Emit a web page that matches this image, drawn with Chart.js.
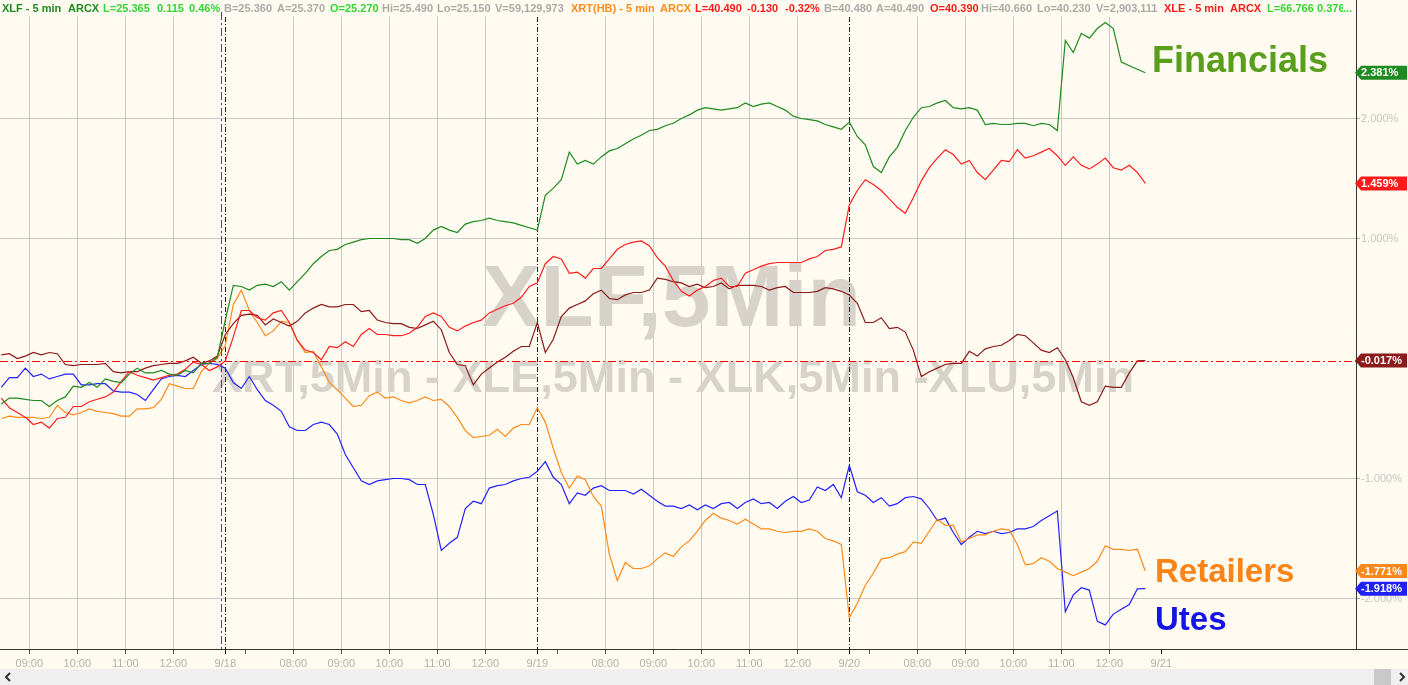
<!DOCTYPE html>
<html><head><meta charset="utf-8">
<script src="https://cdn.jsdelivr.net/npm/chart.js@4.4.0/dist/chart.umd.min.js"></script>
<style>html,body{margin:0;padding:0;background:#fffbf0;overflow:hidden}canvas{display:block}</style>
</head><body>
<canvas id="c" width="1408" height="685"></canvas>
<script>
// ---- data: % change, one value per 10-minute bar (bar 28 = 9/18 open) ----
const xlf = [
-0.38,-0.33,-0.33,-0.34,-0.35,-0.35,-0.40,-0.35,-0.32,-0.23,
-0.24,-0.20,-0.24,-0.17,-0.19,-0.20,-0.13,-0.08,-0.12,-0.12,
-0.10,-0.13,-0.14,-0.10,-0.12,-0.04,-0.04,0.01,0.32,0.61,
0.60,0.57,0.61,0.62,0.60,0.64,0.57,0.64,0.71,0.79,
0.85,0.90,0.91,0.95,0.97,0.99,1.00,1.00,1.00,1.00,
0.99,0.99,0.96,1.00,1.07,1.10,1.07,1.05,1.12,1.14,
1.15,1.17,1.15,1.14,1.13,1.11,1.09,1.07,1.36,1.42,
1.49,1.72,1.62,1.65,1.62,1.68,1.73,1.75,1.79,1.83,
1.86,1.90,1.91,1.94,1.96,2.00,2.03,2.07,2.09,2.08,
2.07,2.08,2.09,2.13,2.10,2.12,2.13,2.10,2.07,2.02,
2.00,1.99,1.98,1.95,1.93,1.91,1.97,1.85,1.78,1.60,
1.55,1.68,1.76,1.90,2.01,2.09,2.10,2.13,2.15,2.09,
2.08,2.09,2.07,1.95,1.96,1.95,1.95,1.96,1.96,1.94,
1.96,1.95,1.90,2.65,2.55,2.71,2.67,2.75,2.80,2.75,
2.47,2.44,2.41,2.381];
const xle = [
-0.33,-0.41,-0.45,-0.49,-0.55,-0.53,-0.58,-0.50,-0.49,-0.40,
-0.40,-0.36,-0.34,-0.32,-0.28,-0.19,-0.11,-0.14,-0.16,-0.18,
-0.16,-0.14,-0.13,-0.09,-0.03,-0.05,-0.10,-0.07,-0.02,0.18,
0.40,0.40,0.34,0.32,0.38,0.40,0.30,0.15,0.07,0.05,
-0.01,0.10,0.09,0.14,0.10,0.20,0.25,0.20,0.20,0.19,
0.19,0.21,0.26,0.35,0.38,0.35,0.26,0.23,0.27,0.30,
0.32,0.38,0.41,0.44,0.46,0.51,0.60,0.63,0.79,0.85,
0.83,0.71,0.72,0.67,0.75,0.75,0.83,0.91,0.95,0.97,
0.98,0.94,0.84,0.77,0.65,0.56,0.52,0.57,0.60,0.65,
0.67,0.60,0.60,0.71,0.74,0.77,0.79,0.80,0.80,0.80,
0.80,0.83,0.85,0.90,0.91,0.93,1.28,1.40,1.49,1.45,
1.40,1.33,1.26,1.21,1.34,1.48,1.59,1.67,1.74,1.70,
1.62,1.65,1.55,1.49,1.57,1.65,1.64,1.74,1.67,1.69,
1.72,1.75,1.69,1.61,1.68,1.61,1.58,1.62,1.67,1.59,
1.57,1.61,1.55,1.459];
const xlk = [
0.03,0.04,0.00,0.02,0.05,0.03,0.05,0.04,-0.05,-0.06,
-0.05,-0.05,-0.05,-0.04,-0.11,-0.12,-0.11,-0.11,-0.08,-0.06,
-0.05,-0.04,-0.04,-0.02,0.01,-0.04,-0.02,0.02,0.20,0.29,
0.36,0.37,0.36,0.28,0.33,0.30,0.27,0.31,0.38,0.42,
0.45,0.43,0.43,0.45,0.45,0.39,0.40,0.32,0.30,0.29,
0.29,0.26,0.25,0.28,0.31,0.24,0.05,-0.05,-0.06,-0.22,
-0.13,-0.08,-0.03,0.01,0.06,0.10,0.10,0.30,0.05,0.16,
0.35,0.42,0.45,0.48,0.54,0.57,0.50,0.49,0.53,0.55,
0.55,0.57,0.67,0.66,0.64,0.63,0.60,0.62,0.59,0.60,
0.63,0.58,0.61,0.61,0.61,0.60,0.57,0.59,0.60,0.55,
0.55,0.55,0.56,0.59,0.58,0.56,0.53,0.46,0.30,0.30,
0.34,0.25,0.26,0.22,0.07,-0.15,-0.11,-0.08,-0.05,-0.04,
-0.04,0.06,0.02,0.08,0.10,0.11,0.15,0.20,0.19,0.13,
0.07,0.05,0.09,-0.01,-0.16,-0.36,-0.39,-0.36,-0.23,-0.24,
-0.24,-0.12,-0.02,-0.017];
const xrt = [
-0.50,-0.48,-0.49,-0.49,-0.49,-0.50,-0.49,-0.39,-0.45,-0.47,
-0.45,-0.42,-0.44,-0.45,-0.46,-0.48,-0.48,-0.42,-0.42,-0.41,
-0.34,-0.21,-0.23,-0.25,-0.25,-0.11,-0.04,0.00,0.11,0.45,
0.57,0.40,0.30,0.19,0.23,0.31,0.30,0.15,0.05,0.06,
-0.07,-0.20,-0.26,-0.33,-0.40,-0.39,-0.31,-0.28,-0.33,-0.32,
-0.35,-0.37,-0.35,-0.32,-0.35,-0.34,-0.40,-0.49,-0.60,-0.66,
-0.65,-0.64,-0.59,-0.65,-0.58,-0.55,-0.55,-0.41,-0.53,-0.75,
-0.95,-1.08,-0.98,-1.01,-1.15,-1.23,-1.63,-1.85,-1.70,-1.75,
-1.75,-1.73,-1.67,-1.62,-1.65,-1.57,-1.52,-1.44,-1.35,-1.29,
-1.33,-1.35,-1.38,-1.34,-1.38,-1.42,-1.42,-1.44,-1.45,-1.44,
-1.44,-1.42,-1.44,-1.50,-1.52,-1.55,-2.16,-2.04,-1.89,-1.79,
-1.67,-1.66,-1.63,-1.61,-1.53,-1.54,-1.44,-1.34,-1.39,-1.39,
-1.53,-1.50,-1.47,-1.47,-1.44,-1.42,-1.43,-1.55,-1.72,-1.71,
-1.66,-1.69,-1.75,-1.78,-1.81,-1.78,-1.75,-1.69,-1.56,-1.59,
-1.59,-1.60,-1.59,-1.771];
const xlu = [
-0.24,-0.16,-0.16,-0.08,-0.15,-0.13,-0.17,-0.15,-0.13,-0.13,
-0.22,-0.22,-0.21,-0.21,-0.27,-0.28,-0.28,-0.30,-0.35,-0.26,
-0.17,-0.15,-0.14,-0.15,-0.10,-0.05,-0.04,-0.05,-0.08,-0.20,
-0.25,-0.15,-0.26,-0.35,-0.39,-0.44,-0.57,-0.60,-0.60,-0.55,
-0.53,-0.55,-0.63,-0.80,-0.91,-1.02,-1.05,-1.02,-1.01,-1.00,
-1.00,-1.01,-1.05,-1.05,-1.30,-1.60,-1.54,-1.49,-1.25,-1.19,
-1.21,-1.08,-1.06,-1.05,-1.02,-1.00,-0.99,-0.94,-0.86,-0.99,
-1.05,-1.21,-1.12,-1.14,-1.08,-1.06,-1.10,-1.10,-1.10,-1.13,
-1.09,-1.14,-1.19,-1.23,-1.23,-1.25,-1.22,-1.26,-1.22,-1.25,
-1.21,-1.20,-1.25,-1.20,-1.17,-1.21,-1.20,-1.25,-1.19,-1.15,
-1.20,-1.18,-1.07,-1.10,-1.05,-1.16,-0.89,-1.11,-1.14,-1.20,
-1.16,-1.23,-1.21,-1.16,-1.15,-1.17,-1.25,-1.35,-1.33,-1.45,
-1.55,-1.49,-1.44,-1.46,-1.44,-1.46,-1.45,-1.42,-1.42,-1.40,
-1.35,-1.31,-1.27,-2.11,-1.97,-1.91,-1.93,-2.19,-2.22,-2.13,
-2.09,-2.05,-1.92,-1.918];

// trading-hours axis: each session 6.5h, 9/18 open = 0
const openBar = 28;
const times = xlf.map((_, i) => (i - openBar) / 6);
const dayStarts = [0, 6.5, 13, 19.5];
const dayLabels = ['9/18', '9/19', '9/20', '9/21'];
const sessionLines = [0, 6.5, 13];
const hourOffsets = [25/60, 85/60, 145/60, 205/60, 265/60, 325/60];
const hourLabels = ['', '08:00', '09:00', '10:00', '11:00', '12:00'];
const yTicks = [-2, -1, 1, 2];
const cursorTime = -0.08;

const FONT = '"Liberation Sans", Arial, sans-serif';
const X_MIN = -4.694, X_MAX = 23.556, Y_MIN = -2.421, Y_MAX = 2.846;

const tickDefs = [];
for (let d = -1; d <= 3; d++) {
  const base = d * 6.5;
  if (d >= 0) tickDefs.push({value: base, label: dayLabels[d], day: true});
  if (d < 3) hourOffsets.forEach((o, k) => tickDefs.push({value: base + o, label: hourLabels[k], day: false}));
}
const xTickDefs = tickDefs.filter(t => t.value >= X_MIN && t.value <= X_MAX);
function findTick(v) { return xTickDefs.find(t => Math.abs(t.value - v) < 1e-6); }

const seriesStyle = [
  {name: 'XLF', data: xlf, color: '#1f8a1f', badge: '#1f8a1f'},
  {name: 'XLE', data: xle, color: '#ff1e1e', badge: '#ff1a1a'},
  {name: 'XLK', data: xlk, color: '#8b1a1a', badge: '#8b1a1a'},
  {name: 'XRT', data: xrt, color: '#ff8a1a', badge: '#f7891f'},
  {name: 'XLU', data: xlu, color: '#2222ff', badge: '#2020f5'}
];

const header = [
  [2,'XLF - 5 min','#1f8a1f'],[68,'ARCX','#1f8a1f'],[103,'L=25.365','#33d633'],[157,'0.115','#33d633'],
  [189,'0.46%','#33d633'],[224,'B=25.360','#aaaaaa'],[277,'A=25.370','#aaaaaa'],[330,'O=25.270','#33d633'],
  [382,'Hi=25.490','#aaaaaa'],[437,'Lo=25.150','#aaaaaa'],[495,'V=59,129,973','#aaaaaa'],
  [571,'XRT(HB) - 5 min','#ff8c1a'],[660,'ARCX','#ff8c1a'],[695,'L=40.490','#ff1a1a'],[747,'-0.130','#ff1a1a'],
  [785,'-0.32%','#ff1a1a'],[824,'B=40.480','#aaaaaa'],[876,'A=40.490','#aaaaaa'],[930,'O=40.390','#ff1a1a'],
  [981,'Hi=40.660','#aaaaaa'],[1037,'Lo=40.230','#aaaaaa'],[1096,'V=2,903,111','#aaaaaa'],
  [1164,'XLE - 5 min','#ff1a1a'],[1230,'ARCX','#ff1a1a'],[1267,'L=66.766','#33d633'],[1317,'0.376','#33d633']
];

const deco = {
  id: 'deco',
  beforeDraw(chart) {
    const c = chart.ctx;
    c.save(); c.fillStyle = '#fffbf0'; c.fillRect(0, 0, chart.width, chart.height); c.restore();
  },
  beforeDatasetsDraw(chart) {
    const c = chart.ctx, a = chart.chartArea, xs = chart.scales.x;
    c.save();
    c.beginPath(); c.rect(a.left, a.top, a.right - a.left, a.bottom - a.top); c.clip();
    c.fillStyle = '#d7d3ca';
    c.textBaseline = 'alphabetic';
    c.font = 'bold 88px ' + FONT;
    c.save(); c.translate(482, 326); c.scale(379 / c.measureText('XLF,5Min').width, 1);
    c.fillText('XLF,5Min', 0, 0); c.restore();
    c.font = 'bold 45px ' + FONT;
    const wm = 'XRT,5Min - XLE,5Min - XLK,5Min -XLU,5Min';
    c.save(); c.translate(212, 392); c.scale(922 / c.measureText(wm).width, 1);
    c.fillText(wm, 0, 0); c.restore();
    // session separators
    c.strokeStyle = '#222'; c.lineWidth = 1; c.setLineDash([5, 2, 1, 2]);
    sessionLines.forEach(d => {
      const x = Math.round(xs.getPixelForValue(d)) + 0.5;
      c.beginPath(); c.moveTo(x, a.top); c.lineTo(x, a.bottom); c.stroke();
    });
    c.restore();
  },
  afterDatasetsDraw(chart) {
    const c = chart.ctx, a = chart.chartArea, xs = chart.scales.x, ys = chart.scales.y;
    c.save();
    c.strokeStyle = '#ff0000'; c.lineWidth = 1; c.setLineDash([8, 3, 2, 3]);
    const y = Math.round(ys.getPixelForValue(xlk[xlk.length - 1])) + 0.5;
    c.beginPath(); c.moveTo(0, y); c.lineTo(a.right, y); c.stroke();
    const x = Math.round(xs.getPixelForValue(cursorTime)) + 0.5;
    c.beginPath(); c.moveTo(x, 12); c.lineTo(x, a.bottom); c.stroke();
    c.restore();
  },
  afterDraw(chart) {
    const c = chart.ctx, a = chart.chartArea, ys = chart.scales.y;
    c.save();
    // axis extensions
    c.strokeStyle = '#333'; c.lineWidth = 1;
    c.beginPath(); c.moveTo(a.right + 0.5, 0); c.lineTo(a.right + 0.5, a.top); c.stroke();
    c.beginPath(); c.moveTo(a.right, a.bottom + 0.5); c.lineTo(chart.width, a.bottom + 0.5); c.stroke();
    // header
    c.font = 'bold 11px ' + FONT; c.textBaseline = 'alphabetic';
    header.forEach(h => { c.fillStyle = h[2]; c.fillText(h[1], h[0], 12); });
    c.fillStyle = '#fffbf0'; c.fillRect(1343, 0, 12, 15);
    c.fillStyle = '#33d633'; c.fillText('...', 1343, 12);
    // last-value badges
    seriesStyle.forEach(s => {
      const v = s.data[s.data.length - 1];
      const y = ys.getPixelForValue(v);
      const x0 = a.right;
      c.fillStyle = s.badge;
      c.beginPath();
      c.moveTo(x0 - 1, y); c.lineTo(x0 + 5, y - 7); c.lineTo(chart.width - 1, y - 7);
      c.lineTo(chart.width - 1, y + 7); c.lineTo(x0 + 5, y + 7); c.closePath(); c.fill();
      c.fillStyle = '#ffffff'; c.font = 'bold 11px ' + FONT; c.textBaseline = 'middle';
      c.fillText(v.toFixed(3) + '%', x0 + 5, y + 0.5);
    });
    // sector labels
    c.textBaseline = 'alphabetic';
    c.font = 'bold 36px ' + FONT; c.fillStyle = '#5a9e1e'; c.fillText('Financials', 1152, 72);
    c.font = 'bold 33px ' + FONT; c.fillStyle = '#fb8418'; c.fillText('Retailers', 1155, 582);
    c.fillStyle = '#1414e6'; c.fillText('Utes', 1155, 630);
    // scroll band
    c.fillStyle = '#efefef'; c.fillRect(0, 669, chart.width, 16);
    c.fillStyle = '#c9c9c9'; c.fillRect(1374, 669, 17, 16);
    c.strokeStyle = '#333'; c.lineWidth = 2; c.setLineDash([]);
    c.beginPath(); c.moveTo(10, 673); c.lineTo(6, 677); c.lineTo(10, 681); c.stroke();
    c.beginPath(); c.moveTo(1400, 673); c.lineTo(1404, 677); c.lineTo(1400, 681); c.stroke();
    c.restore();
  }
};

new Chart(document.getElementById('c'), {
  type: 'line',
  data: {
    datasets: seriesStyle.map(s => ({
      label: s.name,
      data: times.map((t, i) => ({x: t, y: s.data[i]})),
      borderColor: s.color, borderWidth: 1.2, pointRadius: 0, tension: 0, fill: false
    }))
  },
  options: {
    responsive: false, animation: false, devicePixelRatio: 1,
    layout: {padding: {top: 17, left: 0, right: 0, bottom: 0}},
    plugins: {legend: {display: false}, tooltip: {enabled: false}},
    scales: {
      x: {
        type: 'linear', min: X_MIN, max: X_MAX,
        afterBuildTicks: s => { s.ticks = xTickDefs.map(t => ({value: t.value})); },
        afterFit: s => { s.height = 36; },
        ticks: {
          autoSkip: false, maxRotation: 0, padding: 3,
          color: '#b0b0b0', font: {family: FONT, size: 11},
          callback: v => { const t = findTick(v); return t ? t.label : ''; }
        },
        grid: {
          color: ctx => { const t = ctx.tick && findTick(ctx.tick.value); return (!t || t.day || t.label === '') ? 'rgba(0,0,0,0)' : '#c8c8c8'; },
          tickColor: ctx => { const t = ctx.tick && findTick(ctx.tick.value); return t && t.day ? '#111' : '#555'; },
          tickLength: 5, lineWidth: 1
        },
        border: {color: '#333', width: 1}
      },
      y: {
        type: 'linear', position: 'right', min: Y_MIN, max: Y_MAX,
        afterBuildTicks: s => { s.ticks = yTicks.map(v => ({value: v})); },
        afterFit: s => { s.width = 52; },
        ticks: {
          padding: 1, color: '#c4c4c4', font: {family: FONT, size: 11},
          callback: v => v.toFixed(3) + '%'
        },
        grid: {color: '#c8c8c8', tickColor: '#aaaaaa', tickLength: 4, lineWidth: 1},
        border: {color: '#333', width: 1}
      }
    }
  },
  plugins: [deco]
});
</script>
</body></html>
